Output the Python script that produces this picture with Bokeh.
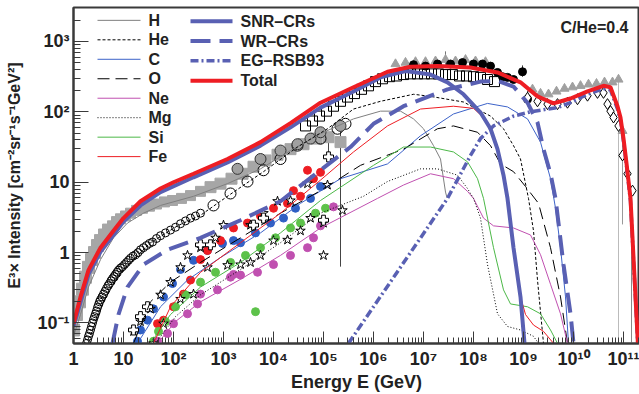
import numpy as np
from bokeh.plotting import figure
from bokeh.models import FixedTicker, Range1d
from bokeh.core.properties import value
from bokeh.embed import file_html
from bokeh.resources import INLINE

# ---------------- data (log10 E [GeV], log10 E^3 x Intensity) ----------------
TOT_LE = [0.00,0.14,0.30,0.54,0.80,1.00,1.34,1.74,2.00,2.40,3.08,3.74,4.34,4.94,5.60,6.28,6.74,7.28,7.94,8.48,8.94,9.28,9.60,9.94,10.28,10.60,10.74,10.88,10.94,11.00,11.06,11.14,11.20,11.26,11.31]
TOT_LI = [-1.01,-0.63,-0.25,0.07,0.31,0.49,0.73,0.91,1.00,1.12,1.33,1.57,1.84,2.13,2.35,2.57,2.64,2.65,2.63,2.56,2.42,2.22,2.12,2.19,2.29,2.37,2.35,2.08,1.92,1.62,1.27,0.77,-0.07,-0.91,-1.60]

SNR_LE = [0.00,0.30,0.54,0.80,1.00,1.34,1.74,2.40,3.08,3.74,4.34,4.94,5.60,6.14,6.64,7.14,7.48,7.80,8.14,8.34,8.48,8.60,8.68,8.80,8.94,9.02,9.06]
SNR_LI = [-1.05,-0.31,0.01,0.25,0.44,0.67,0.86,1.07,1.28,1.52,1.78,2.06,2.29,2.49,2.58,2.53,2.42,2.25,1.99,1.76,1.47,1.10,0.77,0.07,-0.63,-1.29,-1.62]

WR_LE = [0.78,0.90,1.08,1.40,1.88,2.54,3.34,4.14,4.94,5.54,6.00,6.60,7.48,8.14,8.48,8.80,9.08,9.28,9.40,9.54,9.64,9.80,9.94,10.00,10.04]
WR_LI = [-1.29,-0.88,-0.49,-0.17,0.04,0.21,0.46,0.73,1.17,1.50,1.83,2.08,2.32,2.43,2.44,2.36,2.13,1.85,1.47,1.12,0.77,-0.17,-0.87,-1.29,-1.62]

EG_LE = [5.50,7.48,7.94,8.14,8.40,8.80,9.14,9.48,9.68,9.94,10.28,10.60,10.74,10.88,10.94,11.00,11.06,11.14,11.20,11.26,11.31]
EG_LI = [-1.29,0.77,1.38,1.62,1.80,1.94,2.00,2.04,2.06,2.13,2.25,2.33,2.31,2.04,1.88,1.58,1.23,0.73,-0.11,-0.95,-1.64]

H_LE = [0.00,0.14,0.30,0.54,0.80,1.08,1.40,1.74,2.40,3.08,3.74,4.34,4.94,5.60,6.14,6.54,6.80,7.00,7.20,7.34,7.44,7.47]
H_LI = [-1.19,-0.88,-0.49,-0.10,0.21,0.42,0.56,0.67,0.80,0.98,1.19,1.45,1.69,1.90,2.01,2.01,1.90,1.76,1.52,1.33,0.86,0.78]

HE_LE = [0.34,0.54,0.74,1.08,1.54,2.08,2.54,3.14,3.80,4.48,5.08,5.60,6.14,6.80,7.14,7.80,8.34,8.60,8.80,8.94,9.10,9.20,9.28,9.40]
HE_LI = [-1.17,-0.80,-0.52,-0.18,0.14,0.38,0.53,0.83,1.15,1.50,1.76,2.04,2.15,2.25,2.22,2.14,1.94,1.76,1.52,1.33,0.77,0.31,-0.39,-1.29]

C_LE = [1.28,1.74,2.28,2.94,3.74,4.54,5.34,6.28,6.94,7.60,8.28,8.68,9.08,9.34,9.54,9.64,9.74,9.84,9.90]
C_LI = [-1.29,-0.77,-0.39,-0.07,0.28,0.70,1.05,1.26,1.66,1.97,2.12,2.07,1.90,1.57,1.05,0.63,0.07,-0.63,-1.29]

O_LE = [1.20,1.54,1.94,2.54,3.34,4.14,4.94,5.74,6.60,7.28,7.60,8.08,8.34,8.54,8.80,9.04,9.30,9.54,9.74,9.88]
O_LI = [-1.29,-0.70,-0.42,-0.14,0.21,0.56,0.88,1.24,1.47,1.76,1.80,1.71,1.52,1.26,1.15,0.94,0.70,0.07,-0.63,-1.29]

NE_LE = [1.68,2.04,2.54,3.34,4.14,4.94,6.08,6.60,7.14,7.60,7.88,8.00,8.20,8.40,8.80,9.14,9.34,9.54,9.74,9.88]
NE_LI = [-1.29,-0.98,-0.70,-0.38,-0.04,0.35,0.77,0.96,1.12,1.05,0.87,0.77,0.49,0.38,0.35,0.25,-0.03,-0.45,-0.87,-1.29]

MG_LE = [1.64,2.04,2.54,3.34,4.14,4.94,5.80,6.28,6.94,7.28,7.68,7.88,8.00,8.14,8.28,8.48,8.68,8.94,9.20,9.30]
MG_LI = [-1.29,-0.91,-0.60,-0.24,0.14,0.56,0.80,1.01,1.19,1.19,1.10,0.91,0.77,0.49,-0.17,-0.87,-1.05,-1.10,-1.19,-1.29]

SI_LE = [1.54,1.94,2.54,3.34,4.14,4.94,6.00,6.60,7.14,7.60,7.88,8.08,8.20,8.28,8.40,8.60,8.74,9.08,9.34,9.54,9.68]
SI_LI = [-1.29,-0.88,-0.49,-0.14,0.28,0.74,1.24,1.50,1.50,1.43,1.29,1.05,0.77,0.49,0.07,-0.53,-0.73,-0.77,-0.87,-1.10,-1.29]

FE_LE = [1.60,1.94,2.54,3.34,4.14,4.94,5.60,6.28,6.94,7.60,8.00,8.20,8.34,8.48,8.64,8.80,8.94,9.04,9.20,9.40,9.60]
FE_LI = [-1.29,-0.77,-0.28,0.14,0.56,1.03,1.43,1.80,2.04,2.08,2.05,1.92,1.76,1.47,0.91,0.07,-0.63,-0.88,-1.03,-1.12,-1.29]

# measurements
GSQ_LE = [0.00,0.06,0.12,0.18,0.24,0.30,0.36,0.42,0.48,0.54,0.62,0.70,0.78,0.86,0.94,1.04,1.14,1.26,1.38,1.52,1.66,1.82,1.98,2.16,2.34,2.54,2.74,2.94,3.16,3.38,3.60,3.84,4.08,4.34,4.60,4.86,5.10,5.34]
GSQ_LI = [-1.10,-0.88,-0.70,-0.52,-0.35,-0.21,-0.10,0.00,0.10,0.17,0.25,0.32,0.38,0.44,0.48,0.52,0.56,0.60,0.63,0.66,0.69,0.72,0.74,0.77,0.81,0.87,0.93,0.98,1.05,1.12,1.22,1.31,1.39,1.47,1.54,1.62,1.64,1.57]

OC_LE = [0.26,0.28,0.30,0.32,0.34,0.36,0.38,0.40,0.42,0.44,0.46,0.48,0.50,0.52,0.54,0.57,0.60,0.63,0.66,0.69,0.72,0.75,0.78,0.81,0.84,0.87,0.90,0.94,0.98,1.02,1.06,1.10,1.14,1.19,1.24,1.29,1.34,1.40,1.46,1.52,1.58,1.66,1.74,1.84,1.94,2.04,2.14,2.24,2.34,2.44,2.54,2.80,3.14,3.48,3.80,4.14,4.48,4.94,5.28,5.44]
OC_LI = [-1.29,-1.24,-1.19,-1.15,-1.10,-1.05,-1.00,-0.95,-0.91,-0.87,-0.83,-0.78,-0.74,-0.70,-0.67,-0.63,-0.59,-0.55,-0.51,-0.47,-0.44,-0.40,-0.37,-0.34,-0.31,-0.28,-0.25,-0.22,-0.20,-0.17,-0.14,-0.11,-0.08,-0.05,-0.03,0.00,0.04,0.07,0.10,0.13,0.15,0.20,0.24,0.28,0.32,0.36,0.41,0.45,0.49,0.52,0.56,0.67,0.84,1.01,1.17,1.33,1.52,1.62,1.76,1.83]

GC_LE = [3.28,3.74,4.14,4.48,4.74,4.94,5.34]
GC_LI = [1.19,1.33,1.45,1.54,1.62,1.71,1.80]

BOX_LE = [4.64,4.78,4.92,5.06,5.20,5.34,5.48,5.62,5.76,5.90,6.04,6.18,6.32,6.46,6.60,6.74,6.88,7.02,7.16,7.30,7.44,7.58,7.72,7.86,8.00,8.14,8.28,8.42]
BOX_LI = [1.80,1.87,1.94,2.01,2.08,2.15,2.21,2.26,2.32,2.37,2.43,2.47,2.50,2.51,2.53,2.54,2.54,2.54,2.54,2.54,2.53,2.53,2.51,2.51,2.50,2.49,2.46,2.43]

BC_LE = [6.80,7.04,7.28,7.54,7.78,8.00,8.18,8.34,8.48,8.58,8.68,8.80,8.98,9.08]
BC_LI = [2.67,2.65,2.68,2.68,2.70,2.68,2.68,2.65,2.56,2.50,2.49,2.46,2.57,2.18]

TRI_LE = [6.44,6.64,6.84,7.04,7.24,7.44,7.64,7.84,8.04,8.24,9.18,9.34,9.50,9.66,9.82,9.98,10.14,10.30,10.46,10.62,10.78,10.90,10.98]
TRI_LI = [2.68,2.70,2.71,2.71,2.72,2.74,2.72,2.74,2.72,2.71,2.32,2.26,2.25,2.29,2.33,2.35,2.37,2.39,2.40,2.42,2.42,2.46,1.73]

DIA_LE = [9.08,9.28,9.48,9.68,9.88,10.08,10.28,10.48,10.60,10.68,10.74,10.80,10.90,10.98,11.08,11.18]
DIA_LI = [2.20,2.15,2.11,2.11,2.13,2.18,2.23,2.27,2.27,2.11,2.01,1.92,1.80,1.38,1.12,0.88]

FED_LE = [1.68,1.80,2.00,2.20,2.34,2.54,2.68,2.94,3.20,3.48,3.74,4.00,4.28,4.40,4.54,4.68,4.80,4.94]
FED_LI = [-1.01,-0.96,-0.77,-0.59,-0.39,-0.10,0.03,0.17,0.35,0.42,0.52,0.63,0.70,0.88,0.80,1.17,1.05,1.14]

CD_LE = [1.28,1.34,1.48,1.60,1.80,1.98,2.14,2.40,2.68,2.98,3.20,3.34,3.64,3.94,4.20,4.44,4.74,4.94]
CD_LI = [-1.26,-1.10,-0.96,-0.80,-0.63,-0.44,-0.24,-0.11,0.03,0.13,0.17,0.14,0.28,0.42,0.49,0.63,0.77,0.94]

SID_LE = [1.60,1.70,1.84,2.04,2.24,2.54,2.84,3.14,3.44,3.64,3.74,4.04,4.34,4.54,4.84,5.04]
SID_LI = [-1.26,-1.12,-0.98,-0.77,-0.60,-0.42,-0.28,-0.14,-0.04,-0.84,0.07,0.21,0.35,0.42,0.56,0.63]

NED_LE = [1.68,1.88,2.00,2.28,2.48,2.54,2.88,3.14,3.20,3.34,3.68,4.00,4.34,4.68,4.80,4.94,5.20]
NED_LI = [-1.26,-1.15,-1.01,-0.87,-0.73,-0.59,-0.53,-0.35,-0.31,-0.32,-0.28,-0.17,-0.04,0.07,0.21,0.38,0.65]

STAR_LE = [1.20,1.34,1.54,1.74,1.94,2.14,2.28,2.54,2.84,3.00,3.54,3.80,4.08,4.34,4.68,5.08,
           1.60,1.80,2.14,2.40,2.68,3.08,3.34,3.54,3.74,4.00,4.28,4.54,4.74,5.00,5.38,5.00]
STAR_LI = [-1.12,-0.98,-0.80,-0.60,-0.42,-0.21,-0.04,0.07,0.21,0.39,0.39,0.56,0.73,0.74,0.98,0.96,
           -1.29,-1.01,-0.66,-0.59,-0.21,-0.18,-0.17,-0.14,-0.04,0.17,0.18,0.31,0.49,0.42,0.60,-0.04]

CROSS_LE = [1.20,1.34,1.48,2.54,2.74,3.60,3.80,5.10,5.00]
CROSS_LI = [-1.10,-0.91,-0.77,0.11,0.11,0.39,0.49,1.36,0.46]

# error bars / upper extents (log E, log low, log high)
ERR_LE = [5.34,5.10,7.44,8.98,9.08,10.90,11.16,10.98]
ERR_LO = [-0.20,1.25,2.66,2.50,2.08,-1.40,-1.40,0.40]
ERR_HI = [1.90,1.62,2.86,2.66,2.30,2.52,0.90,1.80]

X_TICK_LABELS = ["1", "10", "10²", "10³", "10⁴", "10⁵", "10⁶", "10⁷", "10⁸", "10⁹", "10¹⁰", "10¹¹"]
Y_TICK_LABELS = ["10⁻¹", "1", "10", "10²", "10³"]


def pw(a):
    return np.power(10.0, np.array(a, dtype=float))


FONT = "Liberation Sans"
FL, FT, FB = 73, 7, 347            # frame edges in page pixels
PX_DEC_X, PX_DEC_Y = 50.0, 71.2    # pixels per decade
LX_MAX = (639 - FL) / PX_DEC_X
LY_MAX = (255 - FT) / PX_DEC_Y
LY_MIN = (255 - FB) / PX_DEC_Y

p = figure(width=639, height=394, x_axis_type="log", y_axis_type="log",
           x_range=Range1d(1.0, 10 ** LX_MAX), y_range=Range1d(10 ** LY_MIN, 10 ** LY_MAX),
           output_backend="svg", toolbar_location=None,
           min_border_left=FL, min_border_right=0, min_border_top=FT, min_border_bottom=394 - FB)
p.background_fill_color = "white"
p.border_fill_color = "white"
p.grid.visible = False
p.outline_line_color = "#3a3a3a"
p.outline_line_width = 2

# layout helpers (page pixel -> data coordinates) for legend & annotation placement
def X(px):
    return 10 ** ((px - FL) / PX_DEC_X)

def Y(py):
    return 10 ** ((255 - py) / PX_DEC_Y)

# ---- error bars ----
p.segment(x0=pw(ERR_LE), y0=pw(ERR_LO), x1=pw(ERR_LE), y1=pw(ERR_HI),
          line_color=["#444", "#444", "#777", "#333", "#333", "#bbbbbb", "#888888", "#999"], line_width=1)

# ---- measurements ----
gsq_sizes = [12] * 12 + [10] * 14 + [11] * 12
p.scatter(pw(GSQ_LE), pw(GSQ_LI), marker="square", size=gsq_sizes, fill_color="#a6a6a6", line_color="#a6a6a6")
p.scatter(pw(OC_LE), pw(OC_LI), marker="circle", size=[8]*51 + [11]*9, fill_alpha=0, line_color="black", line_width=1)
p.scatter(pw(GC_LE), pw(GC_LI), marker="circle", size=11, fill_color="#a0a0a0", line_color="#333", line_width=1)
p.scatter(pw(BOX_LE), pw(BOX_LI), marker="square", size=10, fill_alpha=0, line_color="black", line_width=1)
p.scatter(pw(TRI_LE), pw(TRI_LI), marker="triangle", size=9, fill_color="#a0a0a0", line_color="#a0a0a0")
p.scatter(pw(BC_LE), pw(BC_LI), marker="circle", size=8, fill_color="black", line_color="black")
p.scatter(pw(DIA_LE), pw(DIA_LI), marker="diamond", size=11, fill_color="white", line_color="black", line_width=1)
p.scatter(pw(CD_LE), pw(CD_LI), marker="circle", size=8, fill_color="#2f5fc4", line_color="#2f5fc4")
p.scatter(pw(FED_LE), pw(FED_LI), marker="circle", size=8, fill_color="#ee1d23", line_color="#ee1d23")
p.scatter(pw(SID_LE), pw(SID_LI), marker="circle", size=8, fill_color="#5dc24a", line_color="#5dc24a")
p.scatter(pw(NED_LE), pw(NED_LI), marker="circle", size=8, fill_color="#c050b0", line_color="#c050b0")
p.scatter(pw(STAR_LE), pw(STAR_LI), marker="star", size=10, fill_color="white", line_color="black", line_width=1)
p.scatter(pw(CROSS_LE), pw(CROSS_LI), marker="plus", size=10, fill_color="white", line_color="black", line_width=1)

# ---- element model lines ----
p.line(pw(H_LE), pw(H_LI), line_color="#7f7f7f", line_width=1)
p.line(pw(HE_LE), pw(HE_LI), line_color="black", line_width=1, line_dash="3 2")
p.line(pw(C_LE), pw(C_LI), line_color="#3d63c9", line_width=1)
p.line(pw(O_LE), pw(O_LI), line_color="black", line_width=1, line_dash="12 6")
p.line(pw(NE_LE), pw(NE_LI), line_color="#c050b0", line_width=1)
p.line(pw(MG_LE), pw(MG_LI), line_color="black", line_width=1, line_dash="1 2")
p.line(pw(SI_LE), pw(SI_LI), line_color="#4cb848", line_width=1)
p.line(pw(FE_LE), pw(FE_LI), line_color="#ee1d23", line_width=1)

BLUE = "#5960b3"
p.line(pw(EG_LE), pw(EG_LI), line_color=BLUE, line_width=3.5, line_dash="8 3 2 3")
p.line(pw(WR_LE), pw(WR_LI), line_color=BLUE, line_width=4, line_dash="20 9")
p.line(pw(SNR_LE), pw(SNR_LI), line_color=BLUE, line_width=4)
p.line(pw(TOT_LE), pw(TOT_LI), line_color="#ee1d23", line_width=4)

# ---- legend (manual, ROOT style) ----
leg_left = [("H", "#7f7f7f", 1, "solid"), ("He", "black", 1, "3 2"), ("C", "#3d63c9", 1, "solid"),
            ("O", "black", 1, "12 6"), ("Ne", "#c050b0", 1, "solid"), ("Mg", "black", 1, "1 2"),
            ("Si", "#4cb848", 1, "solid"), ("Fe", "#ee1d23", 1, "solid")]
for i, (lab, col, w, dash) in enumerate(leg_left):
    yy = 20 + i * 19.7
    p.line([X(97), X(140)], [Y(yy), Y(yy)], line_color=col, line_width=w, line_dash=dash)
    p.text([X(148)], [Y(yy)], text=[lab], text_baseline="middle", text_align="left",
           text_font=value(FONT), text_font_style="bold", text_font_size="16px", text_color="#222")
leg_right = [("SNR–CRs", BLUE, 4, "solid"), ("WR–CRs", BLUE, 4, "20 9"),
             ("EG–RSB93", BLUE, 3.5, "8 3 2 3"), ("Total", "#ee1d23", 4, "solid")]
for i, (lab, col, w, dash) in enumerate(leg_right):
    yy = 21 + i * 20
    p.line([X(190), X(232)], [Y(yy), Y(yy)], line_color=col, line_width=w, line_dash=dash)
    p.text([X(240)], [Y(yy)], text=[lab], text_baseline="middle", text_align="left",
           text_font=value(FONT), text_font_style="bold", text_font_size="16px", text_color="#222")

p.text([X(628)], [Y(27)], text=["C/He=0.4"], text_baseline="middle", text_align="right",
       text_font=value(FONT), text_font_style="bold", text_font_size="16px", text_color="#222")

# ---- axes ----
xt = [10.0 ** k for k in range(0, 12)]
yt = [10.0 ** k for k in range(-1, 4)]
xminor = [m * 10.0 ** k for k in range(0, 12) for m in range(2, 10)]
yminor = [m * 10.0 ** k for k in range(-2, 4) for m in range(2, 10)]
p.xaxis.ticker = FixedTicker(ticks=xt, minor_ticks=xminor)
p.yaxis.ticker = FixedTicker(ticks=yt, minor_ticks=yminor)
p.xaxis.major_label_overrides = {t: s for t, s in zip(xt, X_TICK_LABELS)}
p.yaxis.major_label_overrides = {t: s for t, s in zip(yt, Y_TICK_LABELS)}

for ax in (p.xaxis[0], p.yaxis[0]):
    ax.axis_line_color = "#3a3a3a"
    ax.axis_line_width = 2
    ax.major_tick_line_color = "#3a3a3a"
    ax.minor_tick_line_color = "#3a3a3a"
    ax.major_tick_out = 0
    ax.minor_tick_out = 0
    ax.major_label_text_font = FONT
    ax.major_label_text_font_style = "bold"
    ax.major_label_text_font_size = "18px"
    ax.major_label_text_color = "#222"
    ax.axis_label_text_font = FONT
    ax.axis_label_text_font_style = "bold"
    ax.axis_label_text_color = "#222"

p.xaxis.axis_label_text_font_size = "18px"
p.yaxis.axis_label_text_font_size = "16px"
p.xaxis.major_tick_in = 12
p.xaxis.minor_tick_in = 6
p.yaxis.major_tick_in = 15
p.yaxis.minor_tick_in = 7
p.xaxis.major_label_standoff = 5
p.yaxis.major_label_standoff = 4
p.xaxis.axis_label_standoff = 0
p.yaxis.axis_label_standoff = 11
p.xaxis.axis_label = "Energy E (GeV)"
p.yaxis.axis_label = "E³× Intensity [cm⁻²sr⁻¹s⁻¹GeV²]"

open("out.html", "w").write(file_html(p, INLINE))
